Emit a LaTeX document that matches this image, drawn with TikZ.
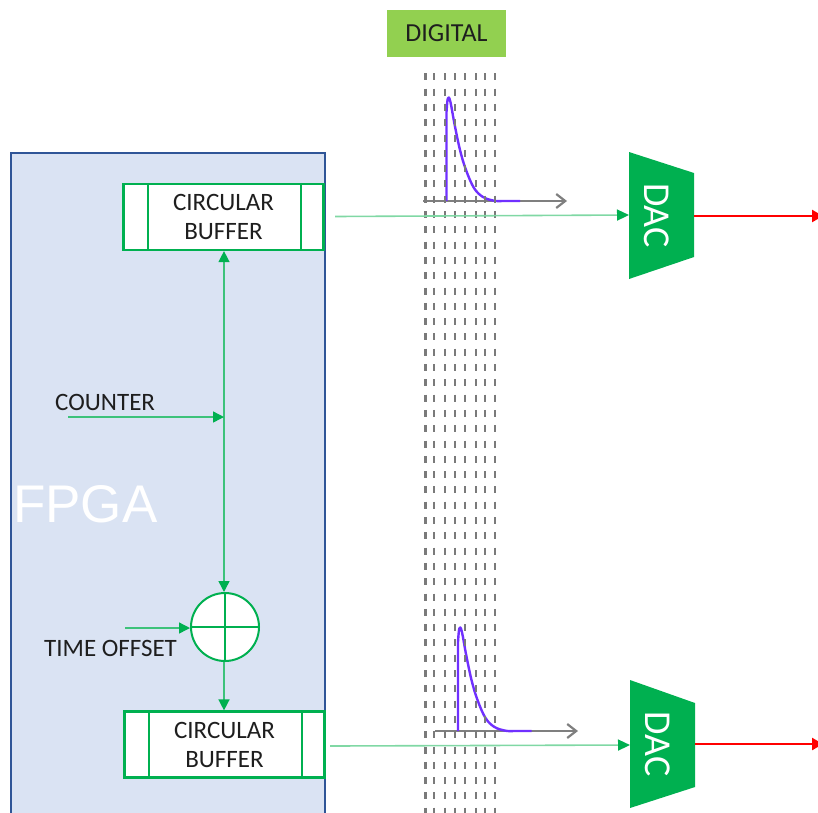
\documentclass[tikz,border=0pt]{standalone}
\usepackage{fontspec}
\setmainfont{Carlito}
\newfontfamily\arialfont{Liberation Sans}
\usetikzlibrary{arrows.meta}

\definecolor{fpgafill}{HTML}{DAE3F3}
\definecolor{fpgaedge}{HTML}{2F5597}
\definecolor{ogreen}{HTML}{00B050}
\definecolor{lgreen}{HTML}{80D8A4}
\definecolor{vgreen}{HTML}{3DC27A}
\definecolor{digi}{HTML}{92D050}
\definecolor{pulsecol}{HTML}{7030FF}
\definecolor{axisgray}{HTML}{7F7F7F}
\definecolor{dashgray}{HTML}{7A7A7A}
\definecolor{txt}{HTML}{1E1E1E}

\tikzset{
  lbl/.style={font=\fontsize{25}{29}\selectfont, text=txt, inner sep=0pt},
  bufbox/.style={draw=ogreen, fill=white, line width=2.2pt, minimum width=200pt,
    minimum height=66pt, align=center, lbl},
  adderbox/.style={circle, draw=ogreen, fill=white, line width=2pt, minimum size=68pt, inner sep=0pt},
  sig/.style={vgreen, line width=1.4pt},
  tip/.style={-{Triangle[length=11pt,width=11pt,color=ogreen]}},
  link/.style={lgreen, line width=1.6pt, -{Triangle[length=12pt,width=11pt,color=ogreen]}},
  outarrow/.style={red, line width=2.4pt, -{Triangle[length=11pt,width=12pt]}},
  dacshape/.style={fill=ogreen},
  daclabel/.style={rotate=-90, text=white, font=\fontsize{38}{38}\selectfont, inner sep=0pt},
  gridline/.style={dashgray, line width=2.6pt, dash pattern=on 7pt off 8.3pt},
  axisline/.style={axisgray, line width=2.2pt, -{Straight Barb[length=9pt,width=14pt,line width=2.2pt]}},
  pulseline/.style={pulsecol, line width=2.4pt, line join=round},
}

\begin{document}
\begin{tikzpicture}[x=1pt,y=-1pt]
\useasboundingbox (0,0) rectangle (818,812);

% FPGA region
\fill[fpgafill] (11,153) rectangle (325,814);
\draw[fpgaedge, line width=2pt] (11,814) -- (11,153) -- (325,153) -- (325,814);
\node[anchor=base west, text=white, font=\arialfont\fontsize{53}{53}\selectfont, inner sep=0pt]
  (fpga) at (13,522) {FPGA};

% DIGITAL header
\node[fill=digi, minimum width=119pt, minimum height=47pt, font=\fontsize{26}{26}\selectfont, text=txt]
  (digital) at (446.5,33.5) {DIGITAL};

% waveforms (drawn below the sample grid)
\foreach \dx/\dy/\ax/\bx in {0/0/423/567, 11.5/530/435/578} {
  \begin{scope}[shift={(\dx,\dy)}]
    \draw[axisline] (\ax-\dx,201) -- (\bx-\dx,201);
    \draw[pulseline] (446.5,201) -- (446.5,112)
      plot[smooth, tension=0.6] coordinates {(446.5,112) (447.8,98.5) (450.2,101)
        (454.5,124) (460,150) (466,170) (474,188) (483,197) (494,200.7) (502,201)}
      -- (520,201);
  \end{scope}
}

% sample grid
\foreach \x in {425.7,434,445,455,464.8,476,485,495}
  \draw[gridline] (\x,73.3) -- (\x,814);

% circular buffers and adder
\node[bufbox] (buf1) at (223.5,217) {CIRCULAR\\BUFFER};
\node[bufbox] (buf2) at (224.5,744.5) {CIRCULAR\\BUFFER};
\foreach \b in {buf1,buf2} {
  \draw[ogreen, line width=2pt] ([xshift=26pt]\b.north west) -- ([xshift=26pt]\b.south west);
  \draw[ogreen, line width=2pt] ([xshift=-24pt]\b.north east) -- ([xshift=-24pt]\b.south east);
}
\node[adderbox] (adder) at (225,627) {};
\draw[ogreen, line width=2pt] (adder.north) -- (adder.south) (adder.west) -- (adder.east);

% counter path
\coordinate (cnt) at (224,417);
\draw[sig, {Triangle[length=11pt,width=11pt,color=ogreen]}-{Triangle[length=11pt,width=11pt,color=ogreen]}]
  (buf1.south -| cnt) -- (adder.north -| cnt);
\coordinate (cntin) at (68,417);
\draw[sig, tip] (cntin) -- (cnt);
\node[lbl, anchor=base west] (cntlabel) at (55,410) {COUNTER};

\coordinate (offin) at (125,628);
\draw[sig, tip] (offin) -- (adder.west |- offin);
\node[lbl, anchor=base west] (offlabel) at (44,656) {TIME OFFSET};
\draw[sig, tip] (adder.south -| cnt) -- (buf2.north -| cnt);

% DACs
\fill[dacshape] (629,152) -- (694,173) -- (694,257) -- (629,279) -- cycle;
\node[daclabel] (dac1) at (657,215.5) {DAC};
\coordinate (dac1in) at (629,215);
\coordinate (dac1out) at (694,216);
\fill[dacshape] (630,680) -- (695,703) -- (695,787) -- (630,808) -- cycle;
\node[daclabel] (dac2) at (658,744) {DAC};
\coordinate (dac2in) at (630,745);
\coordinate (dac2out) at (695,744);

% buffer outputs to DACs
\coordinate (b1out) at (335,216.5);
\coordinate (b2out) at (330,746);
\draw[link] (b1out) -- (dac1in);
\draw[link] (b2out) -- (dac2in);

% analog outputs
\draw[outarrow] (dac1out) -- (823,216);
\draw[outarrow] (dac2out) -- (823,744);
\end{tikzpicture}
\end{document}
